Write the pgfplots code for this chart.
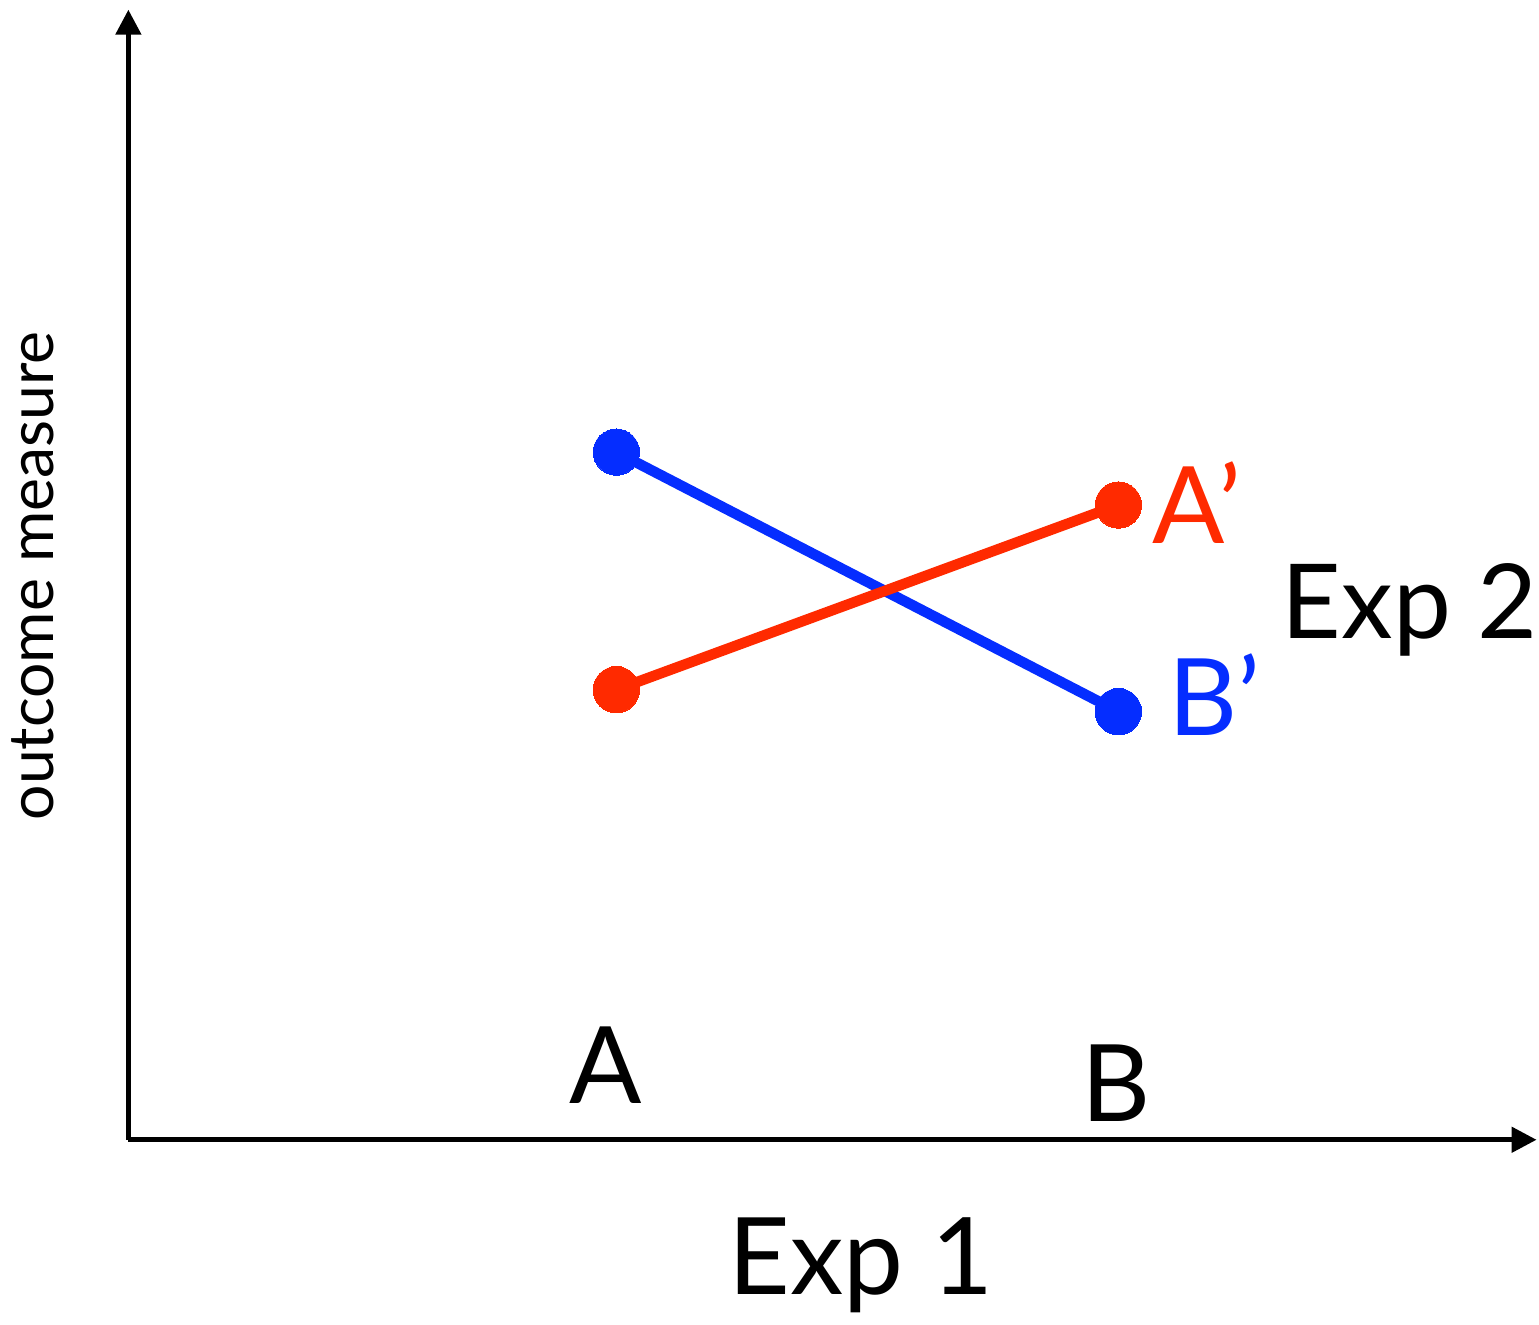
\documentclass[border=0pt]{standalone}
\usepackage{pgfplots}
\pgfplotsset{compat=1.18}
\usepackage{fontspec}
\setmainfont{Lato}
\usetikzlibrary{arrows.meta}
\definecolor{myblue}{RGB}{5,45,255}
\definecolor{myred}{RGB}{255,42,0}
\newcommand{\bigtxt}{\fontsize{30.5}{36}\selectfont}
\begin{document}
\begin{tikzpicture}
\begin{axis}[
  x=5.03cm, y=1.13cm,
  xmin=0.028, xmax=2.833,
  ymin=0, ymax=10.02,
  axis lines=left,
  axis line style={line width=1.4pt, -{Triangle[length=0.25cm,width=0.25cm]}},
  xtick=\empty, ytick=\empty,
  clip=false,
  xlabel={\bigtxt Exp 1},
  xlabel style={at={(axis cs:1.487,-1.372)}, anchor=base},
  ylabel={\fontsize{17.8}{21}\selectfont outcome measure},
  ylabel style={at={(axis cs:-0.121,5.0)}, anchor=base},
]
% Exp 1 = A -> B, blue and red groups
\addplot[myblue, line width=3pt, mark=*, mark size=6.6pt, mark options={solid, fill=myblue, draw=myblue, line width=0pt}]
  coordinates {(1,6.097) (2,3.796)};
\addplot[myred, line width=3pt, mark=*, mark size=6.6pt, mark options={solid, fill=myred, draw=myred, line width=0pt}]
  coordinates {(1,3.991) (2,5.628)};
\node[anchor=base] at (axis cs:0.978,0.319) {\bigtxt A};
\node[anchor=base] at (axis cs:1.996,0.159) {\bigtxt B};
\node[anchor=base west, inner sep=0pt, text=myred] at (axis cs:2.066,5.283) {\bigtxt A’};
\node[anchor=base west, inner sep=0pt, text=myblue] at (axis cs:2.098,3.584) {\bigtxt B’};
\node[anchor=base west, inner sep=0pt] at (axis cs:2.324,4.442) {\fontsize{29.5}{35}\selectfont Exp 2};
\path (axis cs:-0.2265,-1.593) rectangle (axis cs:2.833,10.106);
\end{axis}
\end{tikzpicture}
\end{document}
